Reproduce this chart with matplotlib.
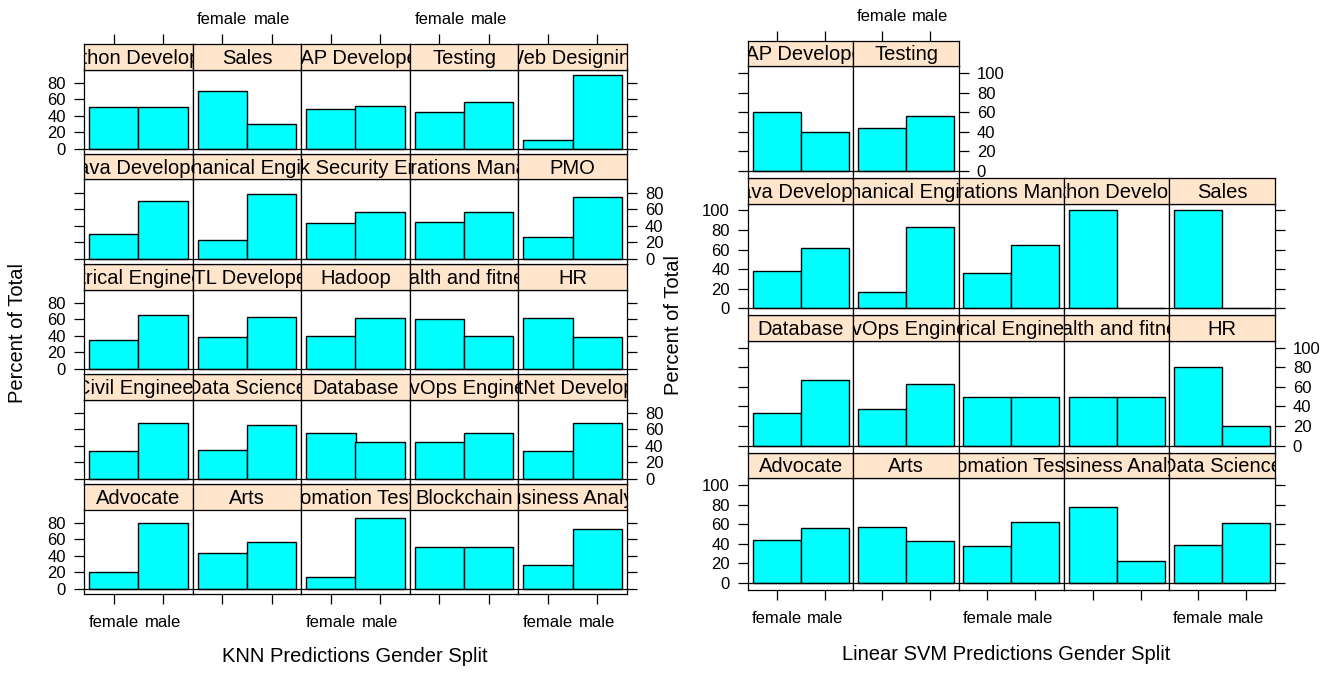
import matplotlib
matplotlib.use('Agg')
import matplotlib.pyplot as plt

plt.rcParams['font.family'] = ['Liberation Sans', 'DejaVu Sans']

genders = ['female', 'male']

# panels in lattice order: bottom row first, left to right
knn_jobs = ['Advocate', 'Arts', 'Automation Testing', 'Blockchain', 'Business Analyst',
            'Civil Engineer', 'Data Science', 'Database', 'DevOps Engineer', 'DotNet Developer',
            'Electrical Engineering', 'ETL Developer', 'Hadoop', 'Health and fitness', 'HR',
            'Java Developer', 'Mechanical Engineer', 'Network Security Engineer',
            'Operations Manager', 'PMO',
            'Python Developer', 'Sales', 'SAP Developer', 'Testing', 'Web Designing']
knn_female = [20, 43, 14, 50, 28,
              33, 35, 55.5, 44.5, 33,
              35, 38, 39, 60, 61.5,
              30, 22, 43, 44, 26,
              50, 70, 48, 44, 10.5]
knn_male = [80, 57, 86, 50, 72,
            67, 65, 44.5, 55.5, 67,
            65, 62, 61, 40, 38.5,
            70, 78, 57, 56, 74,
            50, 30, 52, 56, 89.5]

svm_jobs = ['Advocate', 'Arts', 'Automation Testing', 'Business Analyst', 'Data Science',
            'Database', 'DevOps Engineer', 'Electrical Engineering', 'Health and fitness', 'HR',
            'Java Developer', 'Mechanical Engineer', 'Operations Manager', 'Python Developer',
            'Sales',
            'SAP Developer', 'Testing']
svm_female = [43.5, 57.5, 38, 78, 39,
              33.3, 37.5, 50, 50, 80,
              38, 16.7, 35.7, 100, 100,
              60, 44]
svm_male = [56.5, 42.5, 62, 22, 61,
            66.7, 62.5, 50, 50, 20,
            62, 83.3, 64.3, 0, 0,
            40, 56]

W, H = 1333, 673
fig = plt.figure(figsize=(W / 100, H / 100), dpi=100)


def px_axes(x, y, w, h):
    return fig.add_axes([x / W, 1 - (y + h) / H, w / W, h / H])


def lattice(jobs, female, male, x0, y0, colw, pitch, striph, panelh, ncol, yticks):
    n = len(jobs)
    nrow = (n + ncol - 1) // ncol
    top = max(female + male)
    ylim = (-0.07 * top, 1.07 * top)
    for i, job in enumerate(jobs):
        r = i // ncol
        c = i % ncol
        rt = nrow - 1 - r
        last_in_row = (c == ncol - 1) or (i == n - 1)
        sx = x0 + c * colw
        sy = y0 + rt * pitch

        ax = px_axes(sx, sy + striph, colw, panelh)
        ax.bar([1, 2], [female[i], male[i]], width=1.0, color='#00FFFF',
               edgecolor='black', linewidth=1.0)
        ax.axhline(0, color='black', lw=0.9)
        ax.set_xlim(0.4, 2.6)
        ax.set_ylim(*ylim)
        for s in ax.spines.values():
            s.set_linewidth(0.9)
        ax.set_yticks(yticks)
        ax.set_yticklabels([str(v) for v in yticks])
        ax.tick_params(axis='y', direction='out', length=7, width=0.9, labelsize=12,
                       pad=6, left=(c == 0), right=last_in_row,
                       labelleft=(c == 0 and r % 2 == 0),
                       labelright=(last_in_row and r % 2 == 1))
        ax.set_xticks([1, 2])
        ax.set_xticklabels(genders)
        ax.tick_params(axis='x', direction='out', length=7, width=0.9, labelsize=12,
                       pad=8, bottom=(r == 0), top=False,
                       labelbottom=(r == 0 and c % 2 == 0), labeltop=False)

        sa = px_axes(sx, sy, colw, striph)
        sa.set_facecolor('#FFE5CC')
        sa.set_xlim(0.4, 2.6)
        sa.set_ylim(0, 1)
        for s in sa.spines.values():
            s.set_linewidth(0.9)
        sa.set_yticks([])
        sa.set_xticks([1, 2])
        sa.set_xticklabels(genders)
        sa.tick_params(axis='x', direction='out', length=7, width=0.9, labelsize=12,
                       pad=5, bottom=False, labelbottom=False, top=(r == nrow - 1),
                       labeltop=(r == nrow - 1 and c % 2 == 1))
        sa.text(0.5, 0.45, job, transform=sa.transAxes, ha='center', va='center',
                fontsize=14.5, clip_on=True)


lattice(knn_jobs, knn_female, knn_male, 84, 44, 108.6, 110, 25.5, 84.3, 5,
        [0, 20, 40, 60, 80])
lattice(svm_jobs, svm_female, svm_male, 748, 40.7, 105.35, 137.3, 25.5, 111.7, 5,
        [0, 20, 40, 60, 80, 100])

fig.text(355 / W, 1 - 657 / H, 'KNN Predictions Gender Split', ha='center', va='center',
         fontsize=14.5)
fig.text(1006 / W, 1 - 655 / H, 'Linear SVM Predictions Gender Split', ha='center',
         va='center', fontsize=14.5)
fig.text(18 / W, 1 - 333 / H, 'Percent of Total', ha='center', va='center',
         rotation=90, fontsize=14.5)
fig.text(674 / W, 1 - 325 / H, 'Percent of Total', ha='center', va='center',
         rotation=90, fontsize=14.5)

fig.savefig('out.png', dpi=100)
